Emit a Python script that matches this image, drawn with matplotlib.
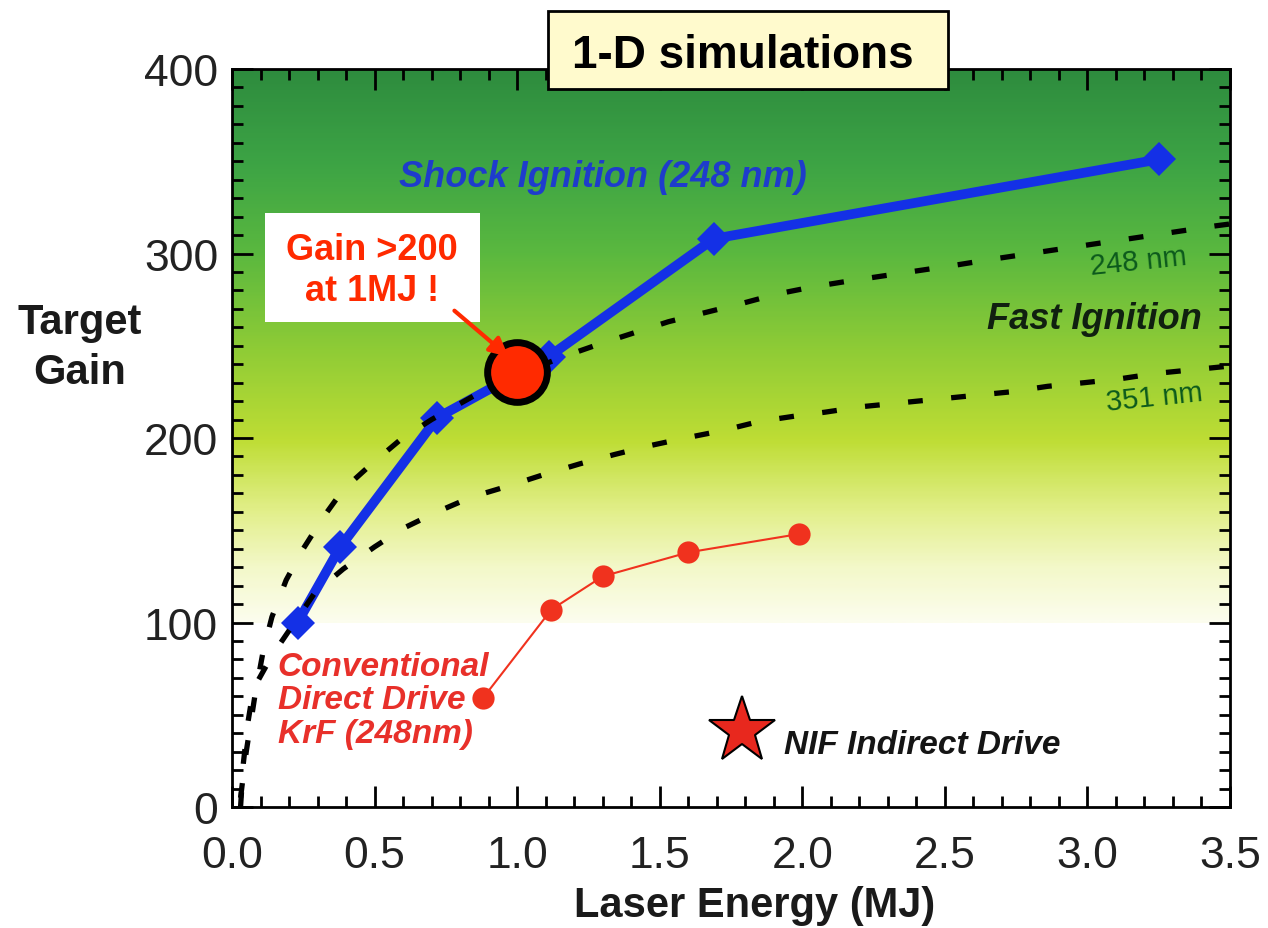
import numpy as np
import matplotlib as mpl
import matplotlib.pyplot as plt
from matplotlib.colors import LinearSegmentedColormap
from matplotlib.patches import Rectangle
from matplotlib.ticker import MultipleLocator
from matplotlib import font_manager

mpl.use("Agg")

# --- data ---
shock_x = [0.23, 0.38, 0.72, 1.11, 1.69, 3.25]
shock_y = [100, 141, 211, 244, 308, 351]

conv_x = [0.88, 1.12, 1.30, 1.60, 1.99]
conv_y = [59, 107, 125, 138, 148]

fi248_x = [0.03, 0.05, 0.08, 0.11, 0.14, 0.19, 0.25, 0.32, 0.39, 0.49, 0.59, 0.70,
           0.85, 1.00, 1.16, 1.29, 1.41, 1.53, 1.66, 1.79, 1.91, 2.04, 2.16, 2.29,
           2.42, 2.55, 2.67, 2.80, 2.93, 3.06, 3.19, 3.32, 3.45, 3.50]
fi248_y = [5, 30, 60, 85, 103, 123, 140, 157, 172, 186, 199, 210,
           223, 234, 244, 251, 257, 263, 268, 273, 278, 282, 285, 288,
           291, 294, 297, 300, 303, 306, 309, 312, 315, 316]

fi351_x = [0.03, 0.04, 0.056, 0.075, 0.14, 0.29, 0.39, 0.50, 0.60, 0.72, 0.84, 0.97,
           1.09, 1.22, 1.34, 1.47, 1.59, 1.72, 1.85, 1.98, 2.08, 2.21, 2.34, 2.47,
           2.60, 2.73, 2.86, 2.99, 3.11, 3.24, 3.37, 3.50]
fi351_y = [0, 24, 46, 64, 82, 116, 129, 141, 151, 160, 168, 174,
           180, 186, 191, 196, 200, 204, 209, 212, 214, 217, 219, 221,
           223, 225, 228, 230, 232, 235, 237, 239]

highlight_x = [1.0]
highlight_y = [236]

nif_x = [1.79]
nif_y = [41]

x_ticks = [0.0, 0.5, 1.0, 1.5, 2.0, 2.5, 3.0, 3.5]
y_ticks = [0, 100, 200, 300, 400]

# --- fonts ---
names = {f.name for f in font_manager.fontManager.ttflist}
SANS = "Liberation Sans"
NARROW = "Liberation Sans Narrow" if "Liberation Sans Narrow" in names else SANS
plt.rcParams['font.family'] = [SANS, 'DejaVu Sans']

fig = plt.figure(figsize=(12.68, 9.29), dpi=100)
ax = fig.add_axes([232 / 1268, 1 - 808 / 929, 998 / 1268, 738 / 929])

# background gradient (white below gain 100)
stops = [(0.00, '#fcfdee'), (0.10, '#f3f8c8'), (0.20, '#e2ef8a'), (0.33, '#bedd34'),
         (0.50, '#8dcb36'), (0.67, '#5ab83f'), (0.83, '#3da445'), (1.00, '#2e8c3e')]
cmap = LinearSegmentedColormap.from_list('bg', stops)
grad = np.linspace(0, 1, 300).reshape(-1, 1)
ax.imshow(grad, cmap=cmap, extent=[0, 3.5, 100, 400], origin='lower',
          aspect='auto', zorder=0, interpolation='bilinear')

# Fast ignition curves
dash = (0, (2.8, 5.4))
ax.plot(fi248_x, fi248_y, color='black', lw=3.8, linestyle=dash,
        dash_capstyle='butt', zorder=4)
ax.plot(fi351_x, fi351_y, color='black', lw=3.8, linestyle=dash,
        dash_capstyle='butt', zorder=4)

# shock ignition
ax.plot(shock_x, shock_y, color='#1430e6', lw=7, marker='D', markersize=17,
        markeredgewidth=0, zorder=3)

# conventional direct drive
ax.plot(conv_x, conv_y, color='#f0321e', lw=1.5, marker='o', markersize=16,
        markeredgewidth=0, zorder=3)

# NIF star
ax.plot(nif_x, nif_y, linestyle='none', marker='*', markersize=50,
        markerfacecolor='#e8281e', markeredgecolor='black', markeredgewidth=1.5, zorder=5)

# highlighted point
ax.plot(highlight_x, highlight_y, linestyle='none', marker='o', markersize=43,
        markerfacecolor='#ff2a00', markeredgecolor='black', markeredgewidth=5, zorder=6)

# labels inside the plot
ax.text(1.30, 342, 'Shock Ignition (248 nm)', color='#1e3ccc', fontsize=26,
        fontweight='bold', fontstyle='italic', ha='center', va='center', zorder=7)
ax.text(3.40, 265, 'Fast Ignition', color='#102010', fontsize=26,
        fontweight='bold', fontstyle='italic', ha='right', va='center', zorder=7)
ax.text(3.18, 296, '248 nm', color='#0c5a1c', fontsize=21, rotation=6,
        ha='center', va='center', zorder=7)
ax.text(3.235, 222, '351 nm', color='#0c5a1c', fontsize=21, rotation=6,
        ha='center', va='center', zorder=7)
ax.text(0.16, 58, 'Conventional\nDirect Drive\nKrF (248nm)', color='#e8302a',
        fontsize=24, fontweight='bold', fontstyle='italic', ha='left', va='center',
        linespacing=1.1, zorder=7)
ax.text(1.935, 34, 'NIF Indirect Drive', color='#151515', fontsize=24,
        fontweight='bold', fontstyle='italic', ha='left', va='center', zorder=7)

# callout box
ax.add_patch(Rectangle((0.116, 263), 0.755, 59, facecolor='white', edgecolor='none', zorder=7))
ax.text(0.49, 291, 'Gain >200\nat 1MJ !', color='#ff2a00', fontsize=26,
        fontweight='bold', ha='center', va='center', linespacing=1.2, zorder=8)
ax.annotate('', xy=(0.97, 244), xytext=(0.78, 269),
            arrowprops=dict(arrowstyle='-|>', color='#ff2a00', lw=3,
                            mutation_scale=28, shrinkA=0, shrinkB=0), zorder=8)

# axes styling
ax.set_xlim(0, 3.5)
ax.set_ylim(0, 400)
ax.set_xticks(x_ticks)
ax.set_xticklabels([f'{t:.1f}' for t in x_ticks])
ax.set_yticks(y_ticks)
ax.xaxis.set_minor_locator(MultipleLocator(0.1))
ax.yaxis.set_minor_locator(MultipleLocator(10))
ax.tick_params(which='both', direction='in', top=True, right=True, width=2, color='black')
ax.tick_params(which='major', length=15)
ax.tick_params(which='minor', length=8)
ax.tick_params(axis='x', which='major', pad=20)
ax.tick_params(axis='y', which='major', pad=10)
for lab in ax.get_xticklabels() + ax.get_yticklabels():
    lab.set_fontfamily(NARROW)
    lab.set_fontsize(35 if NARROW != SANS else 32)
    lab.set_color('#222222')
for s in ax.spines.values():
    s.set_linewidth(2)

fig.text(755 / 1268, 1 - 906 / 929, 'Laser Energy (MJ)', fontsize=30, fontweight='bold',
         color='#1a1a1a', ha='center', va='center')
fig.text(80 / 1268, 1 - 348 / 929, 'Target\nGain', fontsize=30, fontweight='bold',
         color='#1a1a1a', ha='center', va='center', linespacing=1.3)

# title box
fig.patches.append(Rectangle((548 / 1268, 1 - 90 / 929), 400 / 1268, 78 / 929,
                             transform=fig.transFigure, facecolor='#fffacd',
                             edgecolor='black', linewidth=2, zorder=10))
fig.text(743 / 1268, 1 - 56 / 929, '1-D simulations', fontsize=33, fontweight='bold',
         color='black', ha='center', va='center', zorder=11)

fig.savefig('out.png', dpi=100)
